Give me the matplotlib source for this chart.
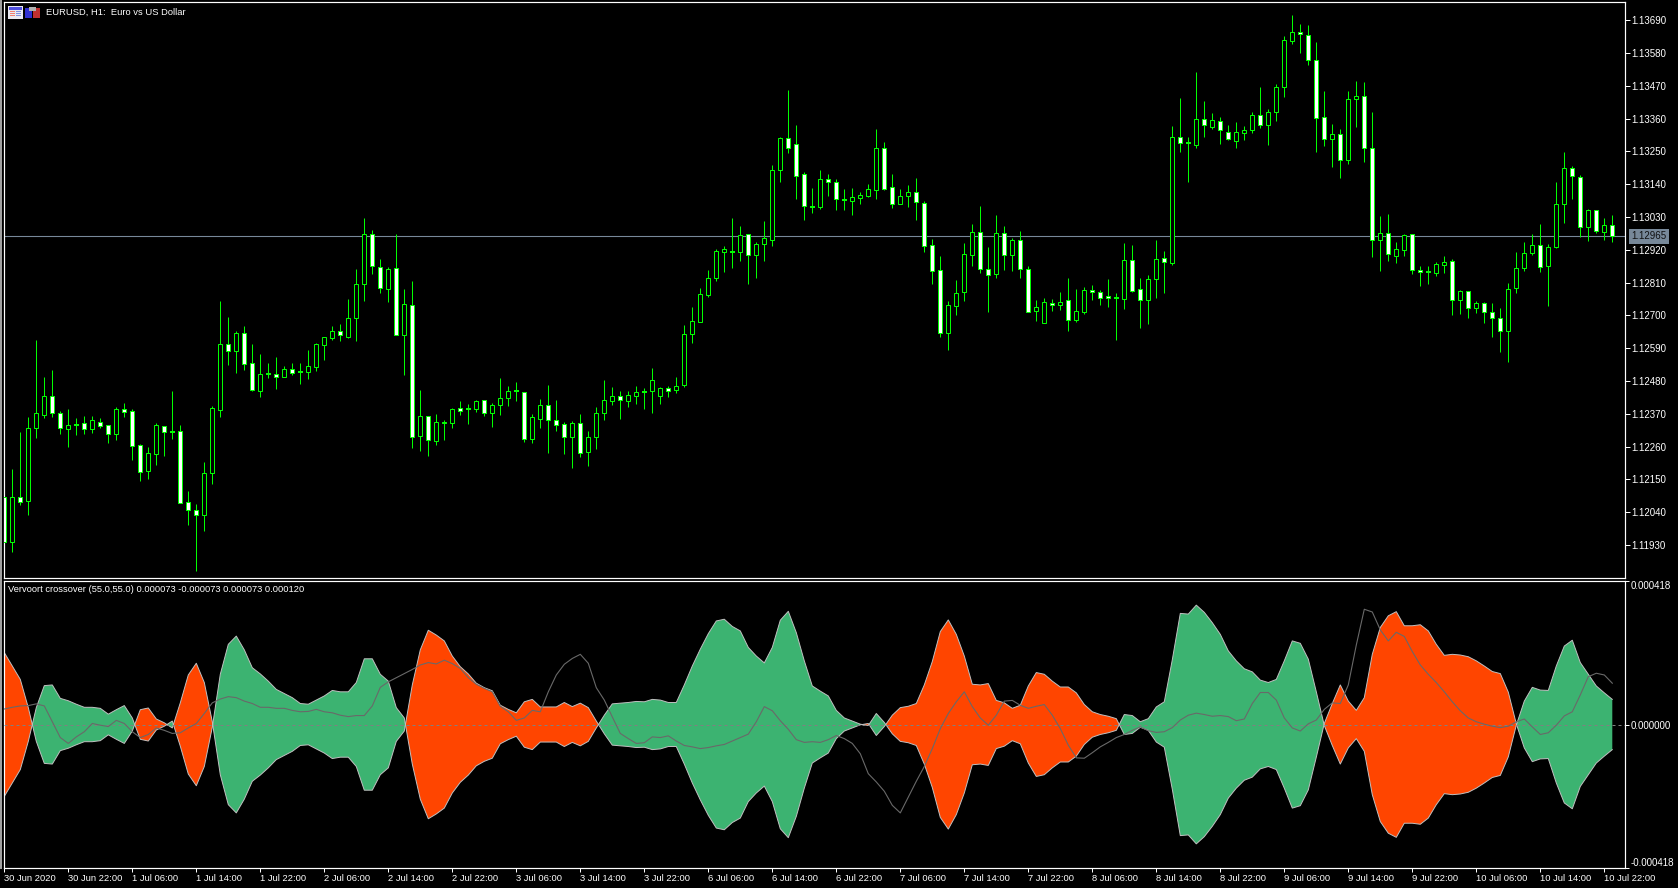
import numpy as np
import matplotlib
matplotlib.use("Agg")
import matplotlib.pyplot as plt
from matplotlib.patches import Rectangle

# ---- data: prices in points (1e-5) above 1.12000 ----
open_pts = [90,-59,90,78,324,367,428,371,320,334,
338,320,344,334,303,385,378,264,179,236,
328,309,311,73,49,31,172,384,603,582,
640,542,447,505,504,494,519,510,511,528,
602,625,646,628,690,804,972,863,787,858,
635,734,294,361,280,344,338,388,386,385,
415,371,398,422,447,444,287,353,398,348,
335,291,338,243,291,371,414,428,414,431,
442,445,428,456,451,465,636,679,770,824,
914,913,914,972,901,938,954,1189,1294,1274,
1174,1064,1062,1157,1147,1087,1082,1095,1102,1122,
1261,1130,1072,1099,1113,1076,935,852,642,733,
777,904,979,855,840,976,901,952,855,716,
673,743,735,751,686,713,784,778,764,760,
756,885,788,750,823,892,876,1297,1277,1273,
1358,1333,1351,1314,1286,1313,1321,1371,1337,1381,
1465,1619,1650,1639,1556,1364,1291,1307,1222,1427,
1435,1260,952,975,900,918,972,851,845,841,
868,881,751,781,724,741,710,690,647,791,
858,908,935,865,928,1073,1193,1163,995,1053,
979,1002]
close_pts = [-59,90,75,324,371,428,371,323,334,334,
320,348,330,303,385,377,261,176,237,331,
310,309,72,48,31,173,388,603,582,640,
538,451,505,505,494,519,508,510,529,603,
626,646,633,690,804,972,864,791,854,633,
737,291,361,281,341,338,385,381,386,412,
371,398,422,448,447,287,358,398,348,331,
291,338,240,291,372,416,429,416,432,442,
442,483,456,448,463,637,681,771,825,915,
921,913,969,901,939,959,1187,1294,1263,1169,
1068,1064,1157,1146,1089,1087,1096,1103,1123,1261,
1125,1072,1100,1113,1079,934,850,642,734,774,
905,979,854,837,976,901,952,854,713,727,
744,735,744,686,714,784,777,760,757,760,
885,783,750,821,888,880,1297,1277,1277,1358,
1338,1354,1321,1291,1314,1321,1371,1338,1381,1465,
1623,1650,1643,1556,1361,1291,1307,1220,1425,1435,
1260,952,975,905,922,969,851,845,845,871,
878,751,781,724,741,710,690,647,788,858,
908,935,861,928,1073,1193,1167,995,1053,982,
1002,965]
high_pts = [90,185,308,359,617,492,517,378,385,355,
362,362,356,334,393,406,385,268,257,339,
328,445,334,111,67,207,395,748,693,647,
666,603,569,542,559,529,539,539,583,609,
626,666,670,754,854,1025,986,888,861,972,
788,815,450,361,368,348,389,412,402,416,
415,405,489,462,475,444,368,419,465,415,
342,346,370,313,392,484,460,447,447,464,
457,524,459,463,494,668,729,791,853,922,
932,1027,1000,972,947,1016,1204,1298,1456,1339,
1180,1128,1187,1174,1157,1123,1127,1113,1140,1326,
1281,1174,1123,1137,1161,1083,955,900,748,818,
943,1007,1067,930,1037,1000,960,982,865,752,
759,755,779,825,789,795,802,786,822,774,
943,935,826,836,953,916,1335,1429,1298,1517,
1419,1379,1364,1339,1349,1335,1381,1466,1392,1476,
1636,1708,1678,1674,1617,1453,1342,1325,1453,1486,
1483,1382,1034,1040,946,972,972,866,864,878,
899,889,784,781,747,744,742,724,808,913,
946,972,1007,939,1148,1247,1200,1170,1056,1053,
1026,1036]
low_pts = [-59,-93,64,30,289,356,359,302,258,299,
302,305,322,272,282,359,215,144,151,198,
228,285,72,-3,-157,-23,134,359,533,507,
517,446,426,490,453,494,500,470,486,513,
550,618,614,624,615,748,839,775,745,633,
500,255,245,228,265,282,322,366,336,376,
362,325,366,396,413,275,272,322,238,312,
236,189,225,195,252,350,400,353,393,403,
386,373,403,427,440,460,608,679,762,816,
846,859,883,806,826,883,933,1148,1245,1091,
1020,1044,1057,1101,1054,1054,1037,1074,1097,1091,
1121,1061,1072,1064,1020,913,806,628,584,702,
749,866,843,712,826,853,849,826,713,682,
673,715,718,648,678,705,752,735,729,619,
722,780,658,671,760,775,869,1248,1148,1262,
1298,1325,1275,1288,1262,1288,1312,1329,1272,1352,
1433,1610,1580,1540,1248,1268,1198,1161,1208,1332,
1215,896,849,883,876,899,839,799,805,832,
841,701,705,691,708,675,628,577,544,774,
849,903,846,732,926,1010,1091,963,950,977,
953,946]

# Indicator, in units of 1e-6: band half-width (sign gives the colour), signal line
band_micro = [209,170,131,49,-49,-113,-115,-76,-69,-59,-50,-50,-47,-30,-43,-55,-19,43,48,16,5,-10,
63,144,178,122,8,-146,-233,-257,-217,-165,-147,-126,-102,-90,-78,-61,-59,-71,-83,-99,-95,-95,-122,
-191,-191,-146,-126,-49,-19,115,217,274,260,243,199,168,147,120,107,98,56,44,34,66,73,51,51,51,
64,52,62,49,10,-27,-60,-62,-64,-67,-66,-73,-71,-64,-64,-115,-170,-219,-264,-301,-306,-285,-272,-224,
-199,-179,-224,-303,-329,-267,-185,-112,-97,-83,-41,-19,-10,-1,3,-32,-6,27,49,53,61,115,183,270,304,
262,199,117,115,119,70,63,47,56,112,151,146,126,109,109,92,58,37,29,24,
17,-29,-26,-8,-17,-51,-66,-188,-323,-321,-347,-326,-296,-262,-214,-185,-162,-153,-129,-122,-131,-185,
-243,-236,-190,-95,3,61,115,68,41,78,204,282,316,328,287,287,290,272,233,201,204,202,197,185,170,154,
148,94,2,-68,-108,-100,-99,-170,-228,-245,-180,-146,-112,-92,-73]
signal_micro = [45,50,54,55,60,54,8,-38,-55,-36,-21,3,-2,-6,12,3,-21,-38,-29,-10,-17,-26,-24,-10,3,32,63,
74,81,78,68,61,50,50,47,47,41,37,38,44,37,34,27,23,26,26,54,108,124,136,148,160,173,180,176,187,177,
163,136,117,105,95,53,37,12,19,41,37,95,144,
175,192,204,178,107,71,22,-26,-41,-55,-53,-36,-38,-33,-48,-61,-65,-70,-67,-62,-58,-48,-38,-28,8,52,40,
11,-14,-44,-52,-50,-52,-44,-32,-41,-55,-85,-143,-167,-194,-235,-257,-211,-165,-122,-70,-12,32,66,95,52,
19,-2,27,68,70,56,47,53,58,27,-12,-60,-97,-98,-82,-65,-52,
-38,-29,-17,-7,-18,-23,-21,-9,13,27,33,29,24,26,23,11,16,61,93,93,71,19,-10,-19,2,13,44,63,61,115,231,
335,327,275,243,268,256,212,173,146,122,95,66,40,19,8,1,-5,-9,-5,8,16,-7,-29,-24,-2,25,37,86,139,149,144,120]

price_ticks = [1.13690,1.13580,1.13470,1.13360,1.13250,1.13140,1.13030,1.12920,1.12810,1.12700,
               1.12590,1.12480,1.12370,1.12260,1.12150,1.12040,1.11930]
last_price = 1.12965
ind_limit = 0.000418
time_labels = ["30 Jun 2020","30 Jun 22:00","1 Jul 06:00","1 Jul 14:00","1 Jul 22:00","2 Jul 06:00",
               "2 Jul 14:00","2 Jul 22:00","3 Jul 06:00","3 Jul 14:00","3 Jul 22:00","6 Jul 06:00",
               "6 Jul 14:00","6 Jul 22:00","7 Jul 06:00","7 Jul 14:00","7 Jul 22:00","8 Jul 06:00",
               "8 Jul 14:00","8 Jul 22:00","9 Jul 06:00","9 Jul 14:00","9 Jul 22:00","10 Jul 06:00",
               "10 Jul 14:00","10 Jul 22:00"]
time_tick_step = 8
title_text = "EURUSD, H1:  Euro vs US Dollar"
ind_text = "Vervoort crossover (55.0,55.0) 0.000073 -0.000073 0.000073 0.000120"

# ---- figure in pixel geometry ----
W, H = 1678, 888
plt.rcParams['font.family'] = ['Liberation Sans', 'DejaVu Sans']
FS = 7.0
FS_TXT = 6.75
PX = 0.72
fig = plt.figure(figsize=(W/100, H/100), dpi=100, facecolor='black')

def axes_px(x0, y0, x1, y1):
    ax = fig.add_axes([x0/W, 1-y1/H, (x1-x0)/W, (y1-y0)/H], facecolor='black')
    for s in ax.spines.values():
        s.set_color('white'); s.set_linewidth(PX*1.2)
    return ax

LEFT, RIGHT = 4.3, 1625.0
ax1 = axes_px(LEFT, 2.3, RIGHT, 578.3)
ax2 = axes_px(LEFT, 580.7, RIGHT, 868.3)
xlim = (0, (RIGHT-LEFT)/8)

# ---- candles ----
o = 1.12 + np.array(open_pts)*1e-5
c = 1.12 + np.array(close_pts)*1e-5
hi = 1.12 + np.array(high_pts)*1e-5
lo = 1.12 + np.array(low_pts)*1e-5
x = np.arange(len(o))
GREEN = '#00FF00'
ax1.axhline(last_price, color='#778899', lw=PX*1.1, zorder=1)
ax1.vlines(x, lo, hi, color=GREEN, lw=PX, zorder=2)
bottoms = np.minimum(o, c); heights = np.abs(c-o)
fills = ['white' if op > cl else 'black' for op, cl in zip(o, c)]
ax1.bar(x, heights, bottom=bottoms, width=0.5, color=fills, edgecolor=GREEN,
        linewidth=PX, zorder=3)
doji = o == c
ax1.hlines(o[doji], x[doji]-0.3, x[doji]+0.3, color=GREEN, lw=PX*2, zorder=3)
ax1.set_xlim(*xlim)
ax1.set_ylim(1.118183, 1.13750)
ax1.set_xticks([])
ax1.yaxis.tick_right()
ax1.set_yticks(price_ticks)
ax1.set_yticklabels([f"{v:.5f}" for v in price_ticks])
ax1.tick_params(axis='y', colors='white', length=3.4, width=PX, pad=1.0, labelsize=FS)

ax1.annotate(f"{last_price:.5f}", xy=(1, last_price), xycoords=('axes fraction', 'data'),
             xytext=(6, 0), textcoords='offset pixels', va='center', ha='left', fontsize=FS, color='#101010',
             bbox=dict(boxstyle='square,pad=0.25', fc='#778899', ec='#778899', lw=0), annotation_clip=False, zorder=6)

# ---- indicator ----
s = np.array(band_micro)*1e-6
sig = np.array(signal_micro)*1e-6
x2 = np.arange(len(s))
ax2.fill_between(x2, s, -s, where=s >= 0, interpolate=True, color='#FF4500', lw=0, zorder=1)
ax2.fill_between(x2, s, -s, where=s <= 0, interpolate=True, color='#3CB371', lw=0, zorder=1)
ax2.plot(x2, s, color='#C0C0C0', lw=0.7, zorder=2)
ax2.plot(x2, -s, color='#C0C0C0', lw=0.7, zorder=2)
ax2.axhline(0, color='#808080', lw=PX, ls=(0, (3, 3)), zorder=3)
ax2.plot(x2, sig, color='#696969', lw=0.8, zorder=4)
ax2.set_xlim(*xlim)
ax2.set_ylim(-ind_limit, ind_limit)
ticks = np.arange(len(time_labels))*time_tick_step
ax2.set_xticks(ticks)
ax2.set_xticklabels(time_labels, ha='left')
ax2.tick_params(axis='x', colors='white', length=3.0, width=PX, pad=1.0, labelsize=FS_TXT)
ax2.yaxis.tick_right()
ax2.set_yticks([ind_limit, 0, -ind_limit])
ylab = ax2.set_yticklabels([f"{ind_limit:.6f}", "0.000000", f"{-ind_limit:.6f}"])
ylab[0].set_va('top'); ylab[2].set_va('bottom')
ax2.tick_params(axis='y', colors='white', length=3.0, width=PX, pad=1.0, labelsize=FS)

# ---- window furniture, in pixels ----
def px_rect(x0, y0, x1, y1, color):
    fig.patches.append(Rectangle((x0/W, 1-y1/H), (x1-x0)/W, (y1-y0)/H, transform=fig.transFigure,
                                 facecolor=color, edgecolor='none', zorder=10))
px_rect(0, 0, 2, 869, '#A0A0A0')
# chart-window icons
px_rect(8, 6, 23, 19, '#E8E8F0'); px_rect(9, 7, 22, 10, '#5050E0')
for yy in (11, 13, 15):
    px_rect(10, yy, 15, yy+1.2, '#F08070'); px_rect(16, yy, 21, yy+1.2, '#8090E0')
px_rect(25, 8, 32, 18, '#3030D0'); px_rect(33, 8, 40, 18, '#C03030'); px_rect(29, 7, 36, 11, '#B0B0B0')

fig.text(45.7/W, 1-12.8/H, title_text, color='white', fontsize=FS_TXT, va='center', ha='left')
fig.text(7.8/W, 1-589.8/H, ind_text, color='white', fontsize=FS_TXT, va='center', ha='left')

fig.savefig('out.png', dpi=100, facecolor='black')
